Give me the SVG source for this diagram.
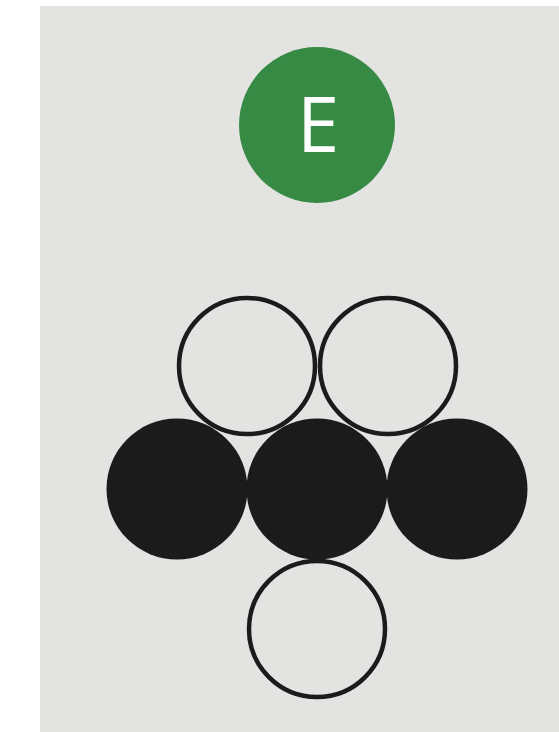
<svg xmlns="http://www.w3.org/2000/svg" width="559" height="732" viewBox="0 0 559 732">
<style>
.open{fill:none;stroke:#1b1b1b;stroke-width:4.5}
.filled{fill:#1b1b1b}
.lbl{font-family:"Open Sans","Noto Sans",sans-serif;font-size:76px;fill:#ffffff;text-anchor:middle}
</style>
<rect x="0" y="0" width="559" height="732" fill="#ffffff"/>
<rect x="40" y="6" width="519" height="726" fill="#e3e3e2"/>
<g id="node-E">
<circle cx="317" cy="125" r="78" fill="#368a43"/>
<text class="lbl" x="318" y="152">E</text>
</g>
<g id="connectors"></g>
<g id="open-1"><circle class="open" cx="247" cy="366" r="68"/></g>
<g id="open-2"><circle class="open" cx="388" cy="366" r="68"/></g>
<g id="filled-1"><circle class="filled" cx="177" cy="489" r="70.5"/></g>
<g id="filled-2"><circle class="filled" cx="317" cy="489" r="70.5"/></g>
<g id="filled-3"><circle class="filled" cx="457" cy="489" r="70.5"/></g>
<g id="open-3"><circle class="open" cx="317" cy="629" r="68"/></g>
</svg>
